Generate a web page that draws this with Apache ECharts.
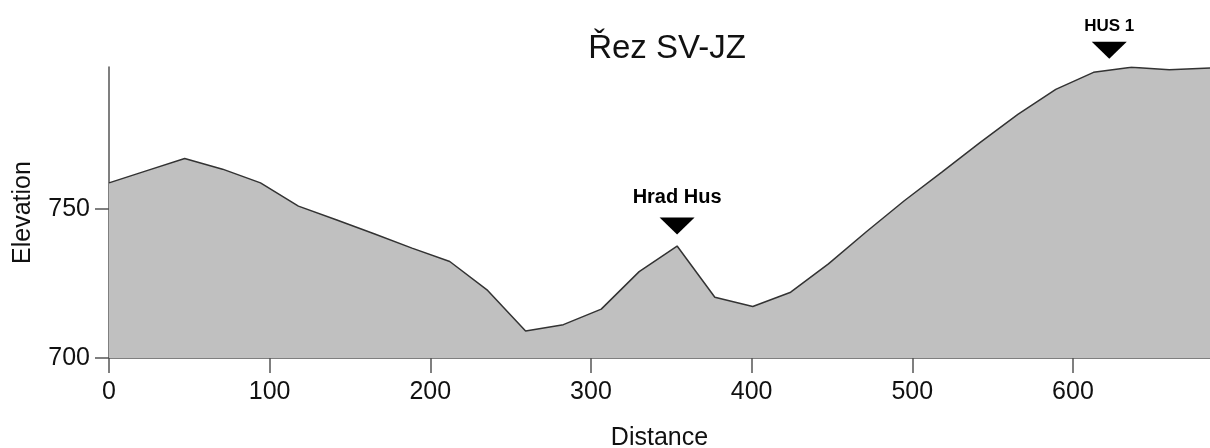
<!DOCTYPE html>
<html>
<head>
<meta charset="utf-8">
<script src="https://cdn.jsdelivr.net/npm/echarts@6/dist/echarts.min.js"></script>
<style>
  html, body { margin: 0; padding: 0; background: #fff; }
  #profil { width: 1210px; height: 448px; }
</style>
</head>
<body>
<div id="profil"></div>
<script>
// vzdálenost podél řezu a nadmořská výška
var distance = [0, 23.6, 47.1, 70.7, 94.3, 117.9, 141.4, 165, 188.6, 212.1, 235.7, 259.3, 282.8, 306.4, 330,
  353.6, 377.1, 400.7, 424.3, 447.8, 471.4, 495, 518.6, 542.1, 565.7, 589.3, 612.8, 636.4, 660, 685.3];
var elevation = [758.8, 762.9, 767.0, 763.4, 758.8, 751.0, 746.4, 741.7, 736.9, 732.4, 722.7, 709.1, 711.2, 716.4, 729.0,
  737.6, 720.4, 717.3, 722.1, 731.6, 742.4, 752.8, 762.5, 772.3, 781.8, 790.2, 795.9, 797.6, 796.8, 797.4];

// body na profilu
var siteNames = ['Hrad Hus', 'HUS 1'];
var siteDist = [353.6, 622.6];
var siteElev = [737.6, 796.6];

var xTicks = [0, 100, 200, 300, 400, 500, 600];
var yTicks = [700, 750];

var font = 'Liberation Sans, Arial, sans-serif';
var axisColor = '#555';

var profileData = distance.map(function (d, i) { return [d, elevation[i]]; });
var siteData = siteNames.map(function (n, i) {
  var item = { name: n, value: [siteDist[i], siteElev[i]] };
  // popisek vrtu je menší a blíž k trojúhelníku
  if (i === 1) item.label = { fontSize: 17, distance: 7 };
  return item;
});

var chart = echarts.init(document.getElementById('profil'));
chart.setOption({
  animation: false,
  title: {
    text: 'Řez SV-JZ',
    left: 662,
    top: 27,
    textAlign: 'center',
    textStyle: { fontFamily: font, fontSize: 33, fontWeight: 'normal', color: '#111' }
  },
  grid: { left: 109, right: 0, top: 67, bottom: 90, outerBoundsMode: 'none' },
  xAxis: {
    type: 'value',
    min: 0,
    max: 685.3,
    interval: 100,
    name: 'Distance',
    nameLocation: 'middle',
    nameGap: 68,
    nameTextStyle: { fontFamily: font, fontSize: 25, color: '#111' },
    axisLine: { lineStyle: { color: axisColor, width: 1.5 } },
    axisTick: { customValues: xTicks, length: 15, lineStyle: { color: axisColor, width: 1.5 } },
    axisLabel: { customValues: xTicks, margin: 22, fontFamily: font, fontSize: 25, color: '#111' },
    splitLine: { show: false }
  },
  yAxis: {
    type: 'value',
    min: 700,
    max: 797.7,
    interval: 50,
    name: 'Elevation',
    nameLocation: 'middle',
    nameGap: 73,
    nameTextStyle: { fontFamily: font, fontSize: 25, color: '#111' },
    axisLine: { show: true, lineStyle: { color: axisColor, width: 1.5 } },
    axisTick: { show: true, customValues: yTicks, length: 14, lineStyle: { color: axisColor, width: 1.5 } },
    axisLabel: { customValues: yTicks, margin: 19, fontFamily: font, fontSize: 25, color: '#111' },
    splitLine: { show: false }
  },
  series: [
    {
      type: 'line',
      data: profileData,
      showSymbol: false,
      lineStyle: { color: '#333', width: 1.5 },
      areaStyle: { color: '#c0c0c0', opacity: 1, origin: 'start' },
      z: 1
    },
    {
      type: 'scatter',
      data: siteData,
      symbol: 'triangle',
      symbolRotate: 180,
      symbolSize: [35, 17],
      symbolOffset: [0, -20],
      itemStyle: { color: '#000', opacity: 1 },
      label: {
        show: true,
        position: 'top',
        distance: 10,
        formatter: '{b}',
        fontFamily: font,
        fontSize: 20,
        fontWeight: 'bold',
        color: '#000'
      },
      z: 3
    }
  ]
});
</script>
</body>
</html>
